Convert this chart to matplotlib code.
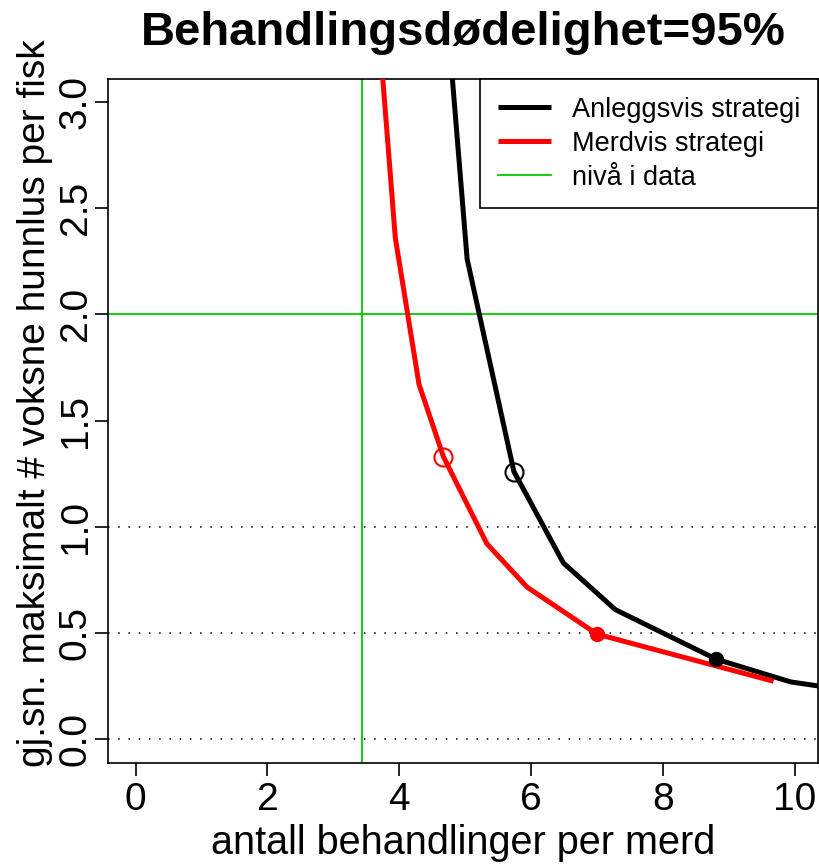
import numpy as np
import matplotlib.pyplot as plt

plt.rcParams['font.family'] = ['Liberation Sans', 'DejaVu Sans']

x_anlegg = [4.65, 5.03, 5.74, 6.49, 7.28, 8.81, 9.94, 10.6]
y_anlegg = [3.70, 2.26, 1.26, 0.83, 0.61, 0.377, 0.27, 0.24]
x_merd = [3.65, 3.94, 4.30, 4.67, 5.33, 5.94, 7.00, 9.68]
y_merd = [3.50, 2.36, 1.67, 1.33, 0.92, 0.716, 0.495, 0.273]

# markerte punkter
open_pts = {'black': (5.74, 1.26), 'red': (4.67, 1.33)}
filled_pts = {'black': (8.81, 0.377), 'red': (7.00, 0.495)}

nivaa_x = 3.436
nivaa_y = 2.0
hlines = [0.0, 0.5, 1.0]

W, H = 819, 864
fig = plt.figure(figsize=(W/100, H/100), dpi=100)
ax = fig.add_axes([108.3/W, 1-763.3/H, (818.3-108.3)/W, (763.3-79)/H])

for h in hlines:
    ax.axhline(h, color='black', lw=1.1, ls=(0, (1, 5.7)), zorder=1)
ax.axvline(nivaa_x, color='#00cc00', lw=1.3, zorder=1)
ax.axhline(nivaa_y, color='#00cc00', lw=1.3, zorder=1)

ax.plot(x_anlegg, y_anlegg, color='black', lw=3.6, solid_capstyle='butt',
        label='Anleggsvis strategi', zorder=3)
ax.plot(x_merd, y_merd, color='red', lw=3.6, solid_capstyle='butt',
        label='Merdvis strategi', zorder=3)
ax.plot([], [], color='#00cc00', lw=1.3, label='nivå i data')

for c, (px, py) in open_pts.items():
    ax.plot(px, py, 'o', mfc='none', mec=c, ms=13, mew=1.5, zorder=4)
for c, (px, py) in filled_pts.items():
    ax.plot(px, py, 'o', color=c, ms=10, zorder=4)

ax.set_xlim(-0.416, 10.36)
ax.set_ylim(-0.113, 3.107)
ax.set_xticks([0, 2, 4, 6, 8, 10])
ax.set_yticks([0.0, 0.5, 1.0, 1.5, 2.0, 2.5, 3.0])
ax.set_yticklabels(['0.0', '0.5', '1.0', '1.5', '2.0', '2.5', '3.0'],
                   rotation=90, va='center')
ax.tick_params(axis='both', direction='out', length=9.5, width=1.2,
               labelsize=28)
ax.tick_params(axis='x', pad=4)
ax.tick_params(axis='y', pad=1)
for s in ax.spines.values():
    s.set_linewidth(1.2)

ax.set_xlabel('antall behandlinger per merd', fontsize=28.5, labelpad=4)
ax.set_ylabel('gj.sn. maksimalt # voksne hunnlus per fisk', fontsize=28)
ax.yaxis.set_label_coords(-0.078, 0.5265)
ax.set_title('Behandlingsdødelighet=95%', fontsize=34, fontweight='bold',
             pad=24.5)

leg = ax.legend(loc='upper right', bbox_to_anchor=(1.0, 1.0),
                borderaxespad=0, fancybox=False, edgecolor='black',
                fontsize=19.5, handlelength=1.96, handletextpad=0.8,
                labelspacing=0.3, borderpad=0.65, framealpha=1)
leg.get_frame().set_linewidth(1.2)

plt.savefig('out.png', dpi=100)
